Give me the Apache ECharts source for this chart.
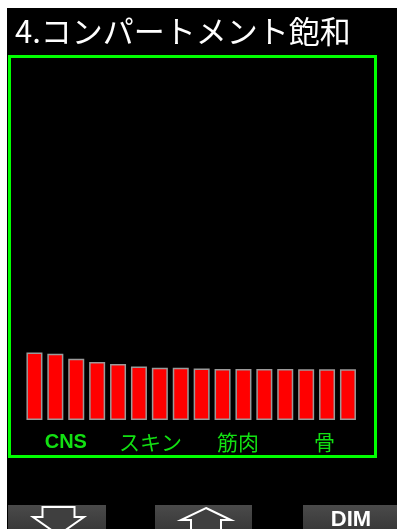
<!DOCTYPE html>
<html>
<head>
<meta charset="utf-8">
<script src="https://cdn.jsdelivr.net/npm/echarts@6/dist/echarts.min.js"></script>
<style>
html,body{margin:0;padding:0;background:#fff;}
#c{width:397px;height:529px;}
</style>
</head>
<body>
<div id="c"></div>
<script>
const title = '4.コンパートメント飽和';
const compartments = ['1','2','3','4','5','6','7','8','9','10','11','12','13','14','15','16'];
const saturation = [19.3, 18.9, 17.5, 16.6, 16.0, 15.3, 14.9, 14.9, 14.7, 14.6, 14.6, 14.6, 14.6, 14.5, 14.5, 14.5];
const groupLabels = ['CNS', 'スキン', '筋肉', '骨'];
const groupShift = [0, 2, 10, 16];
const buttonLabel = 'DIM';

const chart = echarts.init(document.getElementById('c'), null, {renderer: 'canvas'});
const jp = '"Noto Sans CJK JP", "Noto Sans", sans-serif';
const btnFill = {type: 'linear', x: 0, y: 0, x2: 0, y2: 1, colorStops: [{offset: 0, color: '#4a4a4a'}, {offset: 1, color: '#353535'}]};

const rich = {};
groupShift.forEach((s, i) => {
  rich['g' + i] = {color: '#12e012', fontSize: i === 0 ? 20 : 21,
    fontFamily: i === 0 ? '"Liberation Sans", Arial, sans-serif' : jp,
    fontWeight: i === 0 ? 'bold' : 'normal', padding: [0, 0, 0, s]};
});

chart.setOption({
  backgroundColor: 'transparent',
  animation: false,
  grid: {left: 24, right: 38.6, top: 70, bottom: 109},
  xAxis: [
    {type: 'category', data: compartments, show: false},
    {type: 'category', data: groupLabels, position: 'bottom', gridIndex: 0,
     axisLine: {show: false}, axisTick: {show: false},
     axisLabel: {margin: 12, interval: 0,
       formatter: (v, i) => '{g' + i + '|' + v + '}', rich: rich}}
  ],
  yAxis: {type: 'value', min: 0, max: 100, show: false},
  series: [{
    type: 'bar', xAxisIndex: 0, data: saturation, barWidth: 16,
    itemStyle: {color: '#ff0000', borderColor: '#9a9a9a', borderWidth: 1.5}
  }],
  graphic: [
    {type: 'rect', z: -10, shape: {x: 7, y: 8, width: 390, height: 521}, style: {fill: '#000'}},
    {type: 'text', z: 5, x: 15, y: 31, style: {text: title, fill: '#fff', font: '31px ' + jp, textVerticalAlign: 'middle'}},
    {type: 'rect', z: 5, shape: {x: 9.5, y: 56.5, width: 366, height: 400}, style: {fill: 'none', stroke: '#00ff00', lineWidth: 3}},
    {type: 'rect', z: 5, shape: {x: 8, y: 505, width: 98, height: 30}, style: {fill: btnFill}},
    {type: 'rect', z: 5, shape: {x: 155, y: 505, width: 97, height: 30}, style: {fill: btnFill}},
    {type: 'rect', z: 5, shape: {x: 303, y: 505, width: 94, height: 30}, style: {fill: btnFill}},
    {type: 'polygon', z: 6, shape: {points: [[42.5,507],[74.5,507],[74.5,517],[84,517],[58.5,535],[33,517],[42.5,517]]}, style: {fill: '#3f3f3f', stroke: '#fff', lineWidth: 2}},
    {type: 'polygon', z: 6, shape: {points: [[206,508],[231,520],[221,520],[221,535],[191,535],[191,520],[181,520]]}, style: {fill: '#3f3f3f', stroke: '#fff', lineWidth: 2}},
    {type: 'text', z: 6, x: 351, y: 509, style: {text: buttonLabel, fill: '#fff', font: 'bold 22px "Liberation Sans", Arial, sans-serif', textAlign: 'center', textVerticalAlign: 'top'}}
  ]
});
</script>
</body>
</html>
